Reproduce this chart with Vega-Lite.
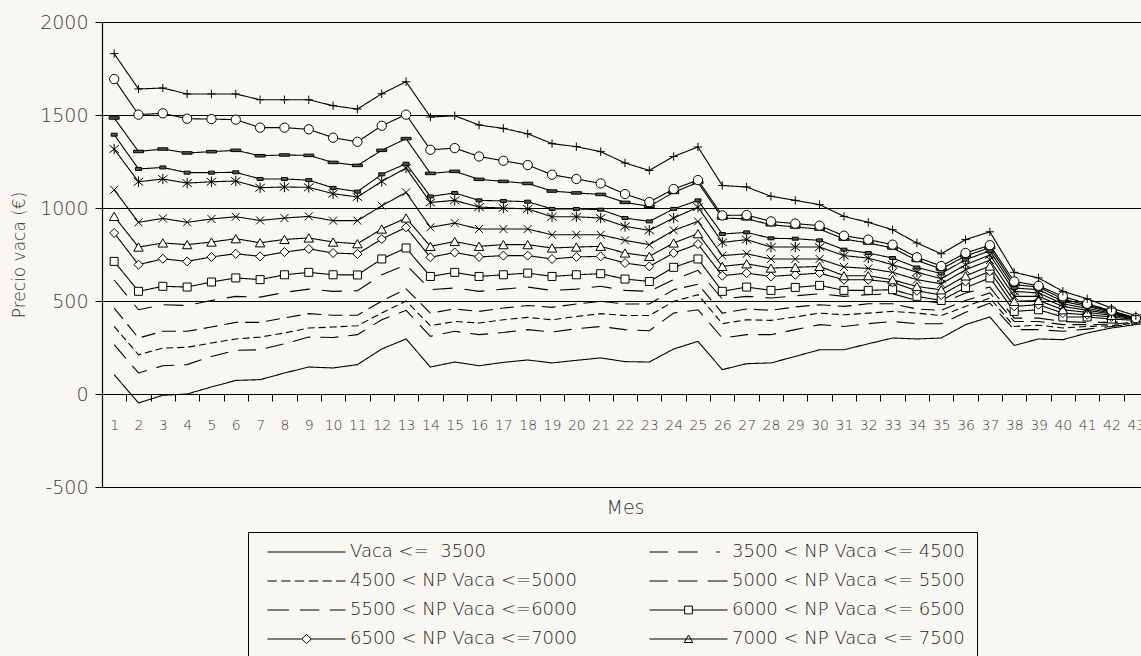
{
"$schema":"https://vega.github.io/schema/vega-lite/v6.json",
"width":1039,"height":465,
"autosize":{"type":"none"},
"padding":{"left":102,"top":22,"right":0,"bottom":169},
"background":"#f9f7f2",
"config":{"view":{"stroke":null},"font":"DejaVu Sans"},
"data":{"values":[
{"s":"s1","m":1,"p":104},{"s":"s1","m":2,"p":-48},{"s":"s1","m":3,"p":-7},{"s":"s1","m":4,"p":0},{"s":"s1","m":5,"p":38},{"s":"s1","m":6,"p":73},{"s":"s1","m":7,"p":77},{"s":"s1","m":8,"p":113},{"s":"s1","m":9,"p":145},{"s":"s1","m":10,"p":140},{"s":"s1","m":11,"p":158},{"s":"s1","m":12,"p":242},{"s":"s1","m":13,"p":296},{"s":"s1","m":14,"p":145},{"s":"s1","m":15,"p":172},{"s":"s1","m":16,"p":152},{"s":"s1","m":17,"p":170},{"s":"s1","m":18,"p":183},{"s":"s1","m":19,"p":167},{"s":"s1","m":20,"p":181},{"s":"s1","m":21,"p":194},{"s":"s1","m":22,"p":174},{"s":"s1","m":23,"p":172},{"s":"s1","m":24,"p":242},{"s":"s1","m":25,"p":283},{"s":"s1","m":26,"p":131},{"s":"s1","m":27,"p":163},{"s":"s1","m":28,"p":167},{"s":"s1","m":29,"p":202},{"s":"s1","m":30,"p":238},{"s":"s1","m":31,"p":238},{"s":"s1","m":32,"p":270},{"s":"s1","m":33,"p":301},{"s":"s1","m":34,"p":296},{"s":"s1","m":35,"p":301},{"s":"s1","m":36,"p":373},{"s":"s1","m":37,"p":414},{"s":"s1","m":38,"p":261},{"s":"s1","m":39,"p":296},{"s":"s1","m":40,"p":292},{"s":"s1","m":41,"p":328},{"s":"s1","m":42,"p":355},{"s":"s1","m":43,"p":373},
{"s":"s2","m":1,"p":265},{"s":"s2","m":2,"p":113},{"s":"s2","m":3,"p":152},{"s":"s2","m":4,"p":158},{"s":"s2","m":5,"p":202},{"s":"s2","m":6,"p":235},{"s":"s2","m":7,"p":238},{"s":"s2","m":8,"p":270},{"s":"s2","m":9,"p":306},{"s":"s2","m":10,"p":304},{"s":"s2","m":11,"p":319},{"s":"s2","m":12,"p":399},{"s":"s2","m":13,"p":450},{"s":"s2","m":14,"p":310},{"s":"s2","m":15,"p":337},{"s":"s2","m":16,"p":319},{"s":"s2","m":17,"p":331},{"s":"s2","m":18,"p":346},{"s":"s2","m":19,"p":333},{"s":"s2","m":20,"p":351},{"s":"s2","m":21,"p":363},{"s":"s2","m":22,"p":346},{"s":"s2","m":23,"p":340},{"s":"s2","m":24,"p":435},{"s":"s2","m":25,"p":453},{"s":"s2","m":26,"p":301},{"s":"s2","m":27,"p":319},{"s":"s2","m":28,"p":319},{"s":"s2","m":29,"p":346},{"s":"s2","m":30,"p":373},{"s":"s2","m":31,"p":363},{"s":"s2","m":32,"p":378},{"s":"s2","m":33,"p":390},{"s":"s2","m":34,"p":378},{"s":"s2","m":35,"p":378},{"s":"s2","m":36,"p":439},{"s":"s2","m":37,"p":489},{"s":"s2","m":38,"p":346},{"s":"s2","m":39,"p":346},{"s":"s2","m":40,"p":337},{"s":"s2","m":41,"p":349},{"s":"s2","m":42,"p":363},{"s":"s2","m":43,"p":378},
{"s":"s3","m":1,"p":363},{"s":"s3","m":2,"p":211},{"s":"s3","m":3,"p":247},{"s":"s3","m":4,"p":251},{"s":"s3","m":5,"p":274},{"s":"s3","m":6,"p":296},{"s":"s3","m":7,"p":306},{"s":"s3","m":8,"p":328},{"s":"s3","m":9,"p":355},{"s":"s3","m":10,"p":360},{"s":"s3","m":11,"p":367},{"s":"s3","m":12,"p":435},{"s":"s3","m":13,"p":500},{"s":"s3","m":14,"p":367},{"s":"s3","m":15,"p":390},{"s":"s3","m":16,"p":382},{"s":"s3","m":17,"p":399},{"s":"s3","m":18,"p":412},{"s":"s3","m":19,"p":399},{"s":"s3","m":20,"p":417},{"s":"s3","m":21,"p":432},{"s":"s3","m":22,"p":422},{"s":"s3","m":23,"p":422},{"s":"s3","m":24,"p":498},{"s":"s3","m":25,"p":534},{"s":"s3","m":26,"p":378},{"s":"s3","m":27,"p":399},{"s":"s3","m":28,"p":396},{"s":"s3","m":29,"p":414},{"s":"s3","m":30,"p":435},{"s":"s3","m":31,"p":426},{"s":"s3","m":32,"p":435},{"s":"s3","m":33,"p":444},{"s":"s3","m":34,"p":435},{"s":"s3","m":35,"p":421},{"s":"s3","m":36,"p":471},{"s":"s3","m":37,"p":516},{"s":"s3","m":38,"p":363},{"s":"s3","m":39,"p":370},{"s":"s3","m":40,"p":355},{"s":"s3","m":41,"p":363},{"s":"s3","m":42,"p":368},{"s":"s3","m":43,"p":382},
{"s":"s4","m":1,"p":462},{"s":"s4","m":2,"p":301},{"s":"s4","m":3,"p":337},{"s":"s4","m":4,"p":337},{"s":"s4","m":5,"p":360},{"s":"s4","m":6,"p":385},{"s":"s4","m":7,"p":385},{"s":"s4","m":8,"p":409},{"s":"s4","m":9,"p":432},{"s":"s4","m":10,"p":423},{"s":"s4","m":11,"p":423},{"s":"s4","m":12,"p":500},{"s":"s4","m":13,"p":565},{"s":"s4","m":14,"p":435},{"s":"s4","m":15,"p":457},{"s":"s4","m":16,"p":444},{"s":"s4","m":17,"p":462},{"s":"s4","m":18,"p":476},{"s":"s4","m":19,"p":466},{"s":"s4","m":20,"p":484},{"s":"s4","m":21,"p":498},{"s":"s4","m":22,"p":484},{"s":"s4","m":23,"p":484},{"s":"s4","m":24,"p":561},{"s":"s4","m":25,"p":590},{"s":"s4","m":26,"p":435},{"s":"s4","m":27,"p":457},{"s":"s4","m":28,"p":450},{"s":"s4","m":29,"p":468},{"s":"s4","m":30,"p":480},{"s":"s4","m":31,"p":471},{"s":"s4","m":32,"p":485},{"s":"s4","m":33,"p":485},{"s":"s4","m":34,"p":457},{"s":"s4","m":35,"p":450},{"s":"s4","m":36,"p":503},{"s":"s4","m":37,"p":543},{"s":"s4","m":38,"p":390},{"s":"s4","m":39,"p":390},{"s":"s4","m":40,"p":373},{"s":"s4","m":41,"p":373},{"s":"s4","m":42,"p":375},{"s":"s4","m":43,"p":386},
{"s":"s5","m":1,"p":613},{"s":"s5","m":2,"p":453},{"s":"s5","m":3,"p":480},{"s":"s5","m":4,"p":476},{"s":"s5","m":5,"p":503},{"s":"s5","m":6,"p":525},{"s":"s5","m":7,"p":521},{"s":"s5","m":8,"p":546},{"s":"s5","m":9,"p":564},{"s":"s5","m":10,"p":552},{"s":"s5","m":11,"p":555},{"s":"s5","m":12,"p":641},{"s":"s5","m":13,"p":695},{"s":"s5","m":14,"p":561},{"s":"s5","m":15,"p":570},{"s":"s5","m":16,"p":552},{"s":"s5","m":17,"p":564},{"s":"s5","m":18,"p":575},{"s":"s5","m":19,"p":557},{"s":"s5","m":20,"p":564},{"s":"s5","m":21,"p":579},{"s":"s5","m":22,"p":557},{"s":"s5","m":23,"p":552},{"s":"s5","m":24,"p":615},{"s":"s5","m":25,"p":665},{"s":"s5","m":26,"p":511},{"s":"s5","m":27,"p":525},{"s":"s5","m":28,"p":516},{"s":"s5","m":29,"p":528},{"s":"s5","m":30,"p":539},{"s":"s5","m":31,"p":525},{"s":"s5","m":32,"p":534},{"s":"s5","m":33,"p":539},{"s":"s5","m":34,"p":503},{"s":"s5","m":35,"p":489},{"s":"s5","m":36,"p":543},{"s":"s5","m":37,"p":575},{"s":"s5","m":38,"p":408},{"s":"s5","m":39,"p":408},{"s":"s5","m":40,"p":390},{"s":"s5","m":41,"p":385},{"s":"s5","m":42,"p":385},{"s":"s5","m":43,"p":390},
{"s":"s6","m":1,"p":713},{"s":"s6","m":2,"p":552},{"s":"s6","m":3,"p":579},{"s":"s6","m":4,"p":575},{"s":"s6","m":5,"p":602},{"s":"s6","m":6,"p":624},{"s":"s6","m":7,"p":615},{"s":"s6","m":8,"p":641},{"s":"s6","m":9,"p":654},{"s":"s6","m":10,"p":641},{"s":"s6","m":11,"p":640},{"s":"s6","m":12,"p":726},{"s":"s6","m":13,"p":785},{"s":"s6","m":14,"p":632},{"s":"s6","m":15,"p":654},{"s":"s6","m":16,"p":632},{"s":"s6","m":17,"p":641},{"s":"s6","m":18,"p":650},{"s":"s6","m":19,"p":632},{"s":"s6","m":20,"p":641},{"s":"s6","m":21,"p":647},{"s":"s6","m":22,"p":618},{"s":"s6","m":23,"p":605},{"s":"s6","m":24,"p":681},{"s":"s6","m":25,"p":726},{"s":"s6","m":26,"p":552},{"s":"s6","m":27,"p":575},{"s":"s6","m":28,"p":557},{"s":"s6","m":29,"p":573},{"s":"s6","m":30,"p":584},{"s":"s6","m":31,"p":557},{"s":"s6","m":32,"p":557},{"s":"s6","m":33,"p":561},{"s":"s6","m":34,"p":525},{"s":"s6","m":35,"p":503},{"s":"s6","m":36,"p":572},{"s":"s6","m":37,"p":624},{"s":"s6","m":38,"p":444},{"s":"s6","m":39,"p":453},{"s":"s6","m":40,"p":414},{"s":"s6","m":41,"p":414},{"s":"s6","m":42,"p":403},{"s":"s6","m":43,"p":396},
{"s":"s7","m":1,"p":866},{"s":"s7","m":2,"p":695},{"s":"s7","m":3,"p":727},{"s":"s7","m":4,"p":713},{"s":"s7","m":5,"p":737},{"s":"s7","m":6,"p":754},{"s":"s7","m":7,"p":740},{"s":"s7","m":8,"p":763},{"s":"s7","m":9,"p":780},{"s":"s7","m":10,"p":758},{"s":"s7","m":11,"p":753},{"s":"s7","m":12,"p":833},{"s":"s7","m":13,"p":896},{"s":"s7","m":14,"p":735},{"s":"s7","m":15,"p":761},{"s":"s7","m":16,"p":737},{"s":"s7","m":17,"p":744},{"s":"s7","m":18,"p":744},{"s":"s7","m":19,"p":726},{"s":"s7","m":20,"p":737},{"s":"s7","m":21,"p":740},{"s":"s7","m":22,"p":704},{"s":"s7","m":23,"p":686},{"s":"s7","m":24,"p":758},{"s":"s7","m":25,"p":806},{"s":"s7","m":26,"p":636},{"s":"s7","m":27,"p":650},{"s":"s7","m":28,"p":632},{"s":"s7","m":29,"p":641},{"s":"s7","m":30,"p":650},{"s":"s7","m":31,"p":614},{"s":"s7","m":32,"p":614},{"s":"s7","m":33,"p":600},{"s":"s7","m":34,"p":555},{"s":"s7","m":35,"p":532},{"s":"s7","m":36,"p":605},{"s":"s7","m":37,"p":660},{"s":"s7","m":38,"p":471},{"s":"s7","m":39,"p":480},{"s":"s7","m":40,"p":435},{"s":"s7","m":41,"p":426},{"s":"s7","m":42,"p":414},{"s":"s7","m":43,"p":400},
{"s":"s8","m":1,"p":955},{"s":"s8","m":2,"p":790},{"s":"s8","m":3,"p":812},{"s":"s8","m":4,"p":803},{"s":"s8","m":5,"p":817},{"s":"s8","m":6,"p":835},{"s":"s8","m":7,"p":813},{"s":"s8","m":8,"p":831},{"s":"s8","m":9,"p":839},{"s":"s8","m":10,"p":817},{"s":"s8","m":11,"p":808},{"s":"s8","m":12,"p":887},{"s":"s8","m":13,"p":946},{"s":"s8","m":14,"p":794},{"s":"s8","m":15,"p":820},{"s":"s8","m":16,"p":794},{"s":"s8","m":17,"p":803},{"s":"s8","m":18,"p":803},{"s":"s8","m":19,"p":785},{"s":"s8","m":20,"p":790},{"s":"s8","m":21,"p":794},{"s":"s8","m":22,"p":758},{"s":"s8","m":23,"p":740},{"s":"s8","m":24,"p":812},{"s":"s8","m":25,"p":862},{"s":"s8","m":26,"p":686},{"s":"s8","m":27,"p":700},{"s":"s8","m":28,"p":677},{"s":"s8","m":29,"p":681},{"s":"s8","m":30,"p":686},{"s":"s8","m":31,"p":636},{"s":"s8","m":32,"p":636},{"s":"s8","m":33,"p":614},{"s":"s8","m":34,"p":578},{"s":"s8","m":35,"p":560},{"s":"s8","m":36,"p":635},{"s":"s8","m":37,"p":688},{"s":"s8","m":38,"p":498},{"s":"s8","m":39,"p":503},{"s":"s8","m":40,"p":453},{"s":"s8","m":41,"p":439},{"s":"s8","m":42,"p":423},{"s":"s8","m":43,"p":403},
{"s":"s9","m":1,"p":1098},{"s":"s9","m":2,"p":923},{"s":"s9","m":3,"p":944},{"s":"s9","m":4,"p":923},{"s":"s9","m":5,"p":941},{"s":"s9","m":6,"p":953},{"s":"s9","m":7,"p":933},{"s":"s9","m":8,"p":946},{"s":"s9","m":9,"p":955},{"s":"s9","m":10,"p":932},{"s":"s9","m":11,"p":932},{"s":"s9","m":12,"p":1012},{"s":"s9","m":13,"p":1084},{"s":"s9","m":14,"p":896},{"s":"s9","m":15,"p":919},{"s":"s9","m":16,"p":887},{"s":"s9","m":17,"p":887},{"s":"s9","m":18,"p":887},{"s":"s9","m":19,"p":856},{"s":"s9","m":20,"p":856},{"s":"s9","m":21,"p":856},{"s":"s9","m":22,"p":826},{"s":"s9","m":23,"p":803},{"s":"s9","m":24,"p":880},{"s":"s9","m":25,"p":928},{"s":"s9","m":26,"p":744},{"s":"s9","m":27,"p":754},{"s":"s9","m":28,"p":726},{"s":"s9","m":29,"p":726},{"s":"s9","m":30,"p":726},{"s":"s9","m":31,"p":683},{"s":"s9","m":32,"p":675},{"s":"s9","m":33,"p":654},{"s":"s9","m":34,"p":615},{"s":"s9","m":35,"p":592},{"s":"s9","m":36,"p":668},{"s":"s9","m":37,"p":720},{"s":"s9","m":38,"p":525},{"s":"s9","m":39,"p":525},{"s":"s9","m":40,"p":471},{"s":"s9","m":41,"p":450},{"s":"s9","m":42,"p":430},{"s":"s9","m":43,"p":405},
{"s":"s10","m":1,"p":1317},{"s":"s10","m":2,"p":1141},{"s":"s10","m":3,"p":1156},{"s":"s10","m":4,"p":1134},{"s":"s10","m":5,"p":1141},{"s":"s10","m":6,"p":1145},{"s":"s10","m":7,"p":1109},{"s":"s10","m":8,"p":1113},{"s":"s10","m":9,"p":1111},{"s":"s10","m":10,"p":1077},{"s":"s10","m":11,"p":1059},{"s":"s10","m":12,"p":1143},{"s":"s10","m":13,"p":1215},{"s":"s10","m":14,"p":1030},{"s":"s10","m":15,"p":1041},{"s":"s10","m":16,"p":1005},{"s":"s10","m":17,"p":1000},{"s":"s10","m":18,"p":995},{"s":"s10","m":19,"p":953},{"s":"s10","m":20,"p":953},{"s":"s10","m":21,"p":946},{"s":"s10","m":22,"p":901},{"s":"s10","m":23,"p":880},{"s":"s10","m":24,"p":946},{"s":"s10","m":25,"p":1005},{"s":"s10","m":26,"p":815},{"s":"s10","m":27,"p":830},{"s":"s10","m":28,"p":790},{"s":"s10","m":29,"p":790},{"s":"s10","m":30,"p":790},{"s":"s10","m":31,"p":744},{"s":"s10","m":32,"p":731},{"s":"s10","m":33,"p":695},{"s":"s10","m":34,"p":655},{"s":"s10","m":35,"p":620},{"s":"s10","m":36,"p":695},{"s":"s10","m":37,"p":748},{"s":"s10","m":38,"p":552},{"s":"s10","m":39,"p":543},{"s":"s10","m":40,"p":485},{"s":"s10","m":41,"p":460},{"s":"s10","m":42,"p":435},{"s":"s10","m":43,"p":407},
{"s":"s11","m":1,"p":1394},{"s":"s11","m":2,"p":1210},{"s":"s11","m":3,"p":1218},{"s":"s11","m":4,"p":1190},{"s":"s11","m":5,"p":1190},{"s":"s11","m":6,"p":1192},{"s":"s11","m":7,"p":1156},{"s":"s11","m":8,"p":1156},{"s":"s11","m":9,"p":1150},{"s":"s11","m":10,"p":1108},{"s":"s11","m":11,"p":1088},{"s":"s11","m":12,"p":1181},{"s":"s11","m":13,"p":1238},{"s":"s11","m":14,"p":1062},{"s":"s11","m":15,"p":1081},{"s":"s11","m":16,"p":1041},{"s":"s11","m":17,"p":1038},{"s":"s11","m":18,"p":1034},{"s":"s11","m":19,"p":995},{"s":"s11","m":20,"p":995},{"s":"s11","m":21,"p":991},{"s":"s11","m":22,"p":946},{"s":"s11","m":23,"p":928},{"s":"s11","m":24,"p":995},{"s":"s11","m":25,"p":1041},{"s":"s11","m":26,"p":860},{"s":"s11","m":27,"p":869},{"s":"s11","m":28,"p":837},{"s":"s11","m":29,"p":835},{"s":"s11","m":30,"p":826},{"s":"s11","m":31,"p":776},{"s":"s11","m":32,"p":758},{"s":"s11","m":33,"p":731},{"s":"s11","m":34,"p":680},{"s":"s11","m":35,"p":648},{"s":"s11","m":36,"p":722},{"s":"s11","m":37,"p":770},{"s":"s11","m":38,"p":570},{"s":"s11","m":39,"p":561},{"s":"s11","m":40,"p":498},{"s":"s11","m":41,"p":471},{"s":"s11","m":42,"p":441},{"s":"s11","m":43,"p":408},
{"s":"s12","m":1,"p":1484},{"s":"s12","m":2,"p":1304},{"s":"s12","m":3,"p":1317},{"s":"s12","m":4,"p":1296},{"s":"s12","m":5,"p":1303},{"s":"s12","m":6,"p":1310},{"s":"s12","m":7,"p":1281},{"s":"s12","m":8,"p":1285},{"s":"s12","m":9,"p":1283},{"s":"s12","m":10,"p":1245},{"s":"s12","m":11,"p":1229},{"s":"s12","m":12,"p":1310},{"s":"s12","m":13,"p":1373},{"s":"s12","m":14,"p":1186},{"s":"s12","m":15,"p":1197},{"s":"s12","m":16,"p":1154},{"s":"s12","m":17,"p":1143},{"s":"s12","m":18,"p":1132},{"s":"s12","m":19,"p":1091},{"s":"s12","m":20,"p":1081},{"s":"s12","m":21,"p":1073},{"s":"s12","m":22,"p":1030},{"s":"s12","m":23,"p":1009},{"s":"s12","m":24,"p":1084},{"s":"s12","m":25,"p":1138},{"s":"s12","m":26,"p":946},{"s":"s12","m":27,"p":942},{"s":"s12","m":28,"p":910},{"s":"s12","m":29,"p":898},{"s":"s12","m":30,"p":887},{"s":"s12","m":31,"p":833},{"s":"s12","m":32,"p":812},{"s":"s12","m":33,"p":785},{"s":"s12","m":34,"p":718},{"s":"s12","m":35,"p":672},{"s":"s12","m":36,"p":742},{"s":"s12","m":37,"p":787},{"s":"s12","m":38,"p":588},{"s":"s12","m":39,"p":575},{"s":"s12","m":40,"p":511},{"s":"s12","m":41,"p":478},{"s":"s12","m":42,"p":444},{"s":"s12","m":43,"p":410},
{"s":"s13","m":1,"p":1693},{"s":"s13","m":2,"p":1502},{"s":"s13","m":3,"p":1509},{"s":"s13","m":4,"p":1480},{"s":"s13","m":5,"p":1478},{"s":"s13","m":6,"p":1475},{"s":"s13","m":7,"p":1432},{"s":"s13","m":8,"p":1432},{"s":"s13","m":9,"p":1423},{"s":"s13","m":10,"p":1378},{"s":"s13","m":11,"p":1356},{"s":"s13","m":12,"p":1442},{"s":"s13","m":13,"p":1502},{"s":"s13","m":14,"p":1313},{"s":"s13","m":15,"p":1322},{"s":"s13","m":16,"p":1277},{"s":"s13","m":17,"p":1254},{"s":"s13","m":18,"p":1231},{"s":"s13","m":19,"p":1179},{"s":"s13","m":20,"p":1156},{"s":"s13","m":21,"p":1132},{"s":"s13","m":22,"p":1075},{"s":"s13","m":23,"p":1032},{"s":"s13","m":24,"p":1102},{"s":"s13","m":25,"p":1150},{"s":"s13","m":26,"p":960},{"s":"s13","m":27,"p":962},{"s":"s13","m":28,"p":928},{"s":"s13","m":29,"p":916},{"s":"s13","m":30,"p":905},{"s":"s13","m":31,"p":851},{"s":"s13","m":32,"p":830},{"s":"s13","m":33,"p":803},{"s":"s13","m":34,"p":735},{"s":"s13","m":35,"p":688},{"s":"s13","m":36,"p":758},{"s":"s13","m":37,"p":800},{"s":"s13","m":38,"p":605},{"s":"s13","m":39,"p":582},{"s":"s13","m":40,"p":525},{"s":"s13","m":41,"p":485},{"s":"s13","m":42,"p":448},{"s":"s13","m":43,"p":408},
{"s":"s14","m":1,"p":1830},{"s":"s14","m":2,"p":1640},{"s":"s14","m":3,"p":1645},{"s":"s14","m":4,"p":1613},{"s":"s14","m":5,"p":1613},{"s":"s14","m":6,"p":1613},{"s":"s14","m":7,"p":1582},{"s":"s14","m":8,"p":1582},{"s":"s14","m":9,"p":1582},{"s":"s14","m":10,"p":1550},{"s":"s14","m":11,"p":1532},{"s":"s14","m":12,"p":1614},{"s":"s14","m":13,"p":1679},{"s":"s14","m":14,"p":1489},{"s":"s14","m":15,"p":1496},{"s":"s14","m":16,"p":1446},{"s":"s14","m":17,"p":1428},{"s":"s14","m":18,"p":1399},{"s":"s14","m":19,"p":1346},{"s":"s14","m":20,"p":1330},{"s":"s14","m":21,"p":1303},{"s":"s14","m":22,"p":1242},{"s":"s14","m":23,"p":1202},{"s":"s14","m":24,"p":1277},{"s":"s14","m":25,"p":1328},{"s":"s14","m":26,"p":1121},{"s":"s14","m":27,"p":1113},{"s":"s14","m":28,"p":1063},{"s":"s14","m":29,"p":1041},{"s":"s14","m":30,"p":1018},{"s":"s14","m":31,"p":955},{"s":"s14","m":32,"p":923},{"s":"s14","m":33,"p":883},{"s":"s14","m":34,"p":812},{"s":"s14","m":35,"p":754},{"s":"s14","m":36,"p":830},{"s":"s14","m":37,"p":872},{"s":"s14","m":38,"p":654},{"s":"s14","m":39,"p":624},{"s":"s14","m":40,"p":552},{"s":"s14","m":41,"p":512},{"s":"s14","m":42,"p":462},{"s":"s14","m":43,"p":421}
]},
"encoding":{
 "x":{"field":"m","type":"ordinal","scale":{"range":[0,1046],"paddingInner":0,"paddingOuter":0},
  "axis":{"orient":"bottom","offset":-93,"tickBand":"extent","labelAngle":0,"labelOverlap":false,"labelBound":false,"labelFlush":false,"domainColor":"black","domainWidth":1,"tickColor":"black","tickSize":7,"tickWidth":1,"labelFont":"DejaVu Sans","labelFontWeight":200,"labelFontSize":14,"labelColor":"#3a3a3a","labelPadding":17,"title":"Mes","titleFont":"DejaVu Sans","titleFontWeight":200,"titleFontSize":19,"titleColor":"#333333","titlePadding":66,"grid":false}},
 "y":{"field":"p","type":"quantitative","scale":{"domain":[-500,2000],"nice":false,"zero":false},
  "axis":{"values":[-500,0,500,1000,1500,2000],"labelExpr":"'' + datum.value","grid":true,"gridColor":"black","gridWidth":1,"gridOpacity":1,"domainColor":"black","domainWidth":1.2,"tickColor":"black","tickSize":7,"labelFont":"DejaVu Sans","labelFontWeight":200,"labelFontSize":19,"labelColor":"#3a3a3a","labelPadding":7,"title":"Precio vaca (€)","titleFont":"DejaVu Sans","titleFontWeight":200,"titleFontSize":17,"titleColor":"#3a3a3a","titlePadding":11}}
},
"layer":[
 {"mark":{"type":"line","color":"black","strokeWidth":1.1},
  "encoding":{"strokeDash":{"field":"s","type":"nominal","legend":null,
   "scale":{"domain":["s1","s2","s3","s4","s5","s6","s7","s8","s9","s10","s11","s12","s13","s14"],
    "range":[[1,0],[18,10],[7,4],[14,7],[20,12],[1,0],[1,0],[1,0],[1,0],[1,0],[1,0],[1,0],[1,0],[1,0]]}}}},
 {"transform":[{"filter":{"field":"s","oneOf":["s6","s7","s8","s9","s10","s11","s12","s13","s14"]}}],
  "mark":{"type":"point","filled":true,"stroke":"black","strokeWidth":1,"opacity":1},
  "encoding":{
   "shape":{"field":"s","type":"nominal","legend":null,"scale":{"domain":["s6","s7","s8","s9","s10","s11","s12","s13","s14"],
    "range":["square","diamond","triangle-up","M-1,-1L1,1M-1,1L1,-1","M-1,-0.8L1,0.8M-1,0.8L1,-0.8M0,-1.1V1.1","M-1,-0.5H1V0.5H-1Z","M-1,-0.25H1V0.25H-1Z","circle","M-1,0H1M0,-1V1"]}},
   "size":{"field":"s","type":"nominal","legend":null,"scale":{"type":"ordinal","domain":["s6","s7","s8","s9","s10","s11","s12","s13","s14"],"range":[64,81,90,64,90,36,100,86,70]}},
   "fill":{"field":"s","type":"nominal","legend":null,"scale":{"domain":["s6","s7","s8","s9","s10","s11","s12","s13","s14"],"range":["white","white","white","white","white","#555555","#555555","white","white"]}}
  }},
 {"mark":{"type":"point","filled":false,"color":"black","strokeWidth":1,"opacity":0,"size":6084},
  "encoding":{"shape":{"field":"s","type":"nominal",
   "scale":{"domain":["s1","s2","s3","s4","s5","s6","s7","s8","s9","s10","s11","s12","s13","s14"],
    "range":["M-1,0H1","M-1,0H-0.53M-0.27,0H0.23M0.71,0H0.8","M-1,0H-0.76M-0.65,0H-0.41M-0.3,0H-0.06M0.06,0H0.3M0.41,0H0.65M0.76,0H1","M-1,0H-0.53M-0.27,0H0.23M0.49,0H1","M-1,0H-0.45M-0.17,0H0.33M0.6,0H1","M-1,0H-0.1M0.1,0H1M-0.1,-0.1H0.1V0.1H-0.1Z","M-1,0H-0.12M0.12,0H1M-0.12,0L0,-0.12L0.12,0L0,0.12Z","M-1,0H1M-0.11,0.09L0,-0.1L0.11,0.09Z","M-1,0H1M-0.09,-0.09L0.09,0.09M-0.09,0.09L0.09,-0.09","M-1,0H1M-0.09,-0.08L0.09,0.08M-0.09,0.08L0.09,-0.08M0,-0.11V0.11","M-1,0H1M-0.07,-0.04H0.07V0.04H-0.07Z","M-1,0H1M-0.12,-0.03H0.12V0.03H-0.12Z","M-1,0H-0.1M0.1,0H1M-0.1,0A0.1,0.1,0,1,0,0.1,0A0.1,0.1,0,1,0,-0.1,0Z","M-1,0H1M0,-0.11V0.11"]},
   "legend":{"title":null,"orient":"none","legendX":146,"legendY":510,"direction":"horizontal","columns":2,"symbolSize":6084,"symbolOpacity":1,"symbolStrokeWidth":1,"symbolStrokeColor":"black","clipHeight":16,"rowPadding":11,"columnPadding":53,"padding":12,"symbolOffset":7,"labelOffset":4,"labelFont":"DejaVu Sans","labelFontWeight":200,"labelFontSize":18,"labelColor":"#222222","labelLimit":400,"strokeColor":"black",
    "labelExpr":"{'s1':'Vaca <=\u00a0\u00a03500','s2':'3500 < NP Vaca <= 4500','s3':'4500 < NP Vaca <=5000','s4':'5000 < NP Vaca <= 5500','s5':'5500 < NP Vaca <=6000','s6':'6000 < NP Vaca <= 6500','s7':'6500 < NP Vaca <=7000','s8':'7000 < NP Vaca <= 7500','s9':'7500 < NP Vaca <=8000','s10':'8000 < NP Vaca <= 8500','s11':'8500 < NP Vaca <=9000','s12':'9000 < NP Vaca <= 9500','s13':'9500 < NP Vaca <=10000','s14':'NP Vaca > 10000'}[datum.value]"}}}}
],
"resolve":{"scale":{"shape":"independent"},"legend":{"shape":"independent"}}
}
